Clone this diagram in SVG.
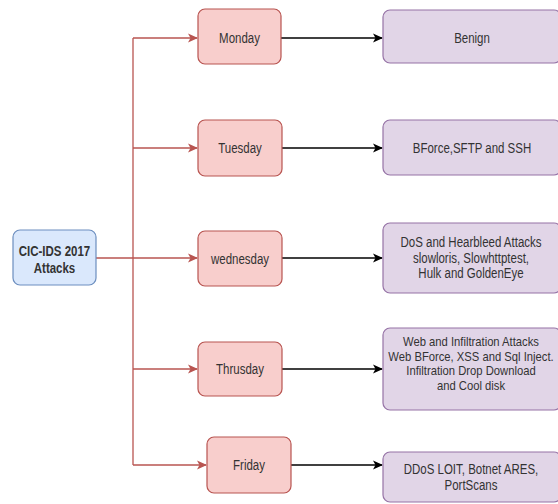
<svg xmlns="http://www.w3.org/2000/svg" width="558" height="504" viewBox="0 0 558 504">
<style>
text{font-family:"Liberation Sans",Arial,sans-serif;font-size:14px;fill:#333333;text-anchor:middle}
.b{font-weight:bold}
.s{font-size:12.5px}
.root{fill:#dae8fc;stroke:#6c8ebf;stroke-width:1.2}
.day{fill:#f8cecc;stroke:#b85450;stroke-width:1.2}
.att{fill:#e1d5e7;stroke:#9673a6;stroke-width:1.2}
.r{stroke:#b85450;stroke-width:1.3;fill:none}
.k{stroke:#000;stroke-width:1.3;fill:none}
</style>
<defs>
<marker id="ar" markerWidth="10" markerHeight="10" refX="9" refY="5" orient="auto" markerUnits="userSpaceOnUse"><path d="M0,0.5 L10,5 L0,9.5 L2.5,5 z" fill="#b85450"/></marker>
<marker id="ak" markerWidth="10" markerHeight="10" refX="9" refY="5" orient="auto" markerUnits="userSpaceOnUse"><path d="M0,0.5 L10,5 L0,9.5 L2.5,5 z" fill="#000"/></marker>
</defs>
<rect width="558" height="504" fill="#fff"/>
<g id="connectors">
<path class="r" d="M96,258 H133"/>
<path class="r" d="M133,38 V465"/>
<path class="r" d="M133,38 H197" marker-end="url(#ar)"/>
<path class="r" d="M133,148 H197" marker-end="url(#ar)"/>
<path class="r" d="M133,258 H197" marker-end="url(#ar)"/>
<path class="r" d="M133,369 H197" marker-end="url(#ar)"/>
<path class="r" d="M133,465 H206" marker-end="url(#ar)"/>
<path class="k" d="M281,38 H382" marker-end="url(#ak)"/>
<path class="k" d="M282,148 H382" marker-end="url(#ak)"/>
<path class="k" d="M282,258 H382" marker-end="url(#ak)"/>
<path class="k" d="M282,369 H382" marker-end="url(#ak)"/>
<path class="k" d="M291,465 H382" marker-end="url(#ak)"/>
</g>
<g id="root">
<rect class="root" x="13" y="230" width="83" height="55" rx="7"/>
<text class="b" transform="translate(54.5,256) scale(0.82,1)">CIC-IDS 2017</text>
<text class="b" transform="translate(54.5,273) scale(0.82,1)">Attacks</text>
</g>
<g id="monday">
<rect class="day" x="198" y="9" width="83" height="55" rx="7"/>
<text transform="translate(239.5,43) scale(0.82,1)">Monday</text>
</g>
<g id="tuesday">
<rect class="day" x="198" y="120" width="84" height="56" rx="7"/>
<text transform="translate(240,153) scale(0.82,1)">Tuesday</text>
</g>
<g id="wednesday">
<rect class="day" x="198" y="231" width="84" height="55" rx="7"/>
<text transform="translate(240,264) scale(0.82,1)">wednesday</text>
</g>
<g id="thursday">
<rect class="day" x="198" y="342" width="84" height="54" rx="7"/>
<text transform="translate(240,374) scale(0.82,1)">Thrusday</text>
</g>
<g id="friday">
<rect class="day" x="207" y="437" width="84" height="56" rx="7"/>
<text transform="translate(249,470) scale(0.82,1)">Friday</text>
</g>
<g id="benign">
<rect class="att" x="383" y="10" width="178" height="53" rx="7"/>
<text transform="translate(472,43) scale(0.82,1)">Benign</text>
</g>
<g id="bforce">
<rect class="att" x="383" y="120" width="178" height="55" rx="7"/>
<text transform="translate(472,153) scale(0.82,1)">BForce,SFTP and SSH</text>
</g>
<g id="dos">
<rect class="att" x="383" y="223" width="178" height="70" rx="7"/>
<text transform="translate(471,247) scale(0.82,1)">DoS and Hearbleed Attacks</text>
<text transform="translate(471,262.5) scale(0.82,1)">slowloris, Slowhttptest,</text>
<text transform="translate(471,278) scale(0.82,1)">Hulk and GoldenEye</text>
</g>
<g id="web">
<rect class="att" x="383" y="328" width="178" height="82" rx="7"/>
<text class="s" transform="translate(471,346) scale(0.9,1)">Web and Infiltration Attacks</text>
<text class="s" transform="translate(471,360.5) scale(0.9,1)">Web BForce, XSS and Sql Inject.</text>
<text class="s" transform="translate(471,375) scale(0.9,1)">Infiltration Drop Download</text>
<text class="s" transform="translate(471,389.5) scale(0.9,1)">and Cool disk</text>
</g>
<g id="ddos">
<rect class="att" x="383" y="452" width="178" height="50" rx="7"/>
<text transform="translate(471,474) scale(0.82,1)">DDoS LOIT, Botnet ARES,</text>
<text transform="translate(471,489.5) scale(0.82,1)">PortScans</text>
</g>
</svg>
